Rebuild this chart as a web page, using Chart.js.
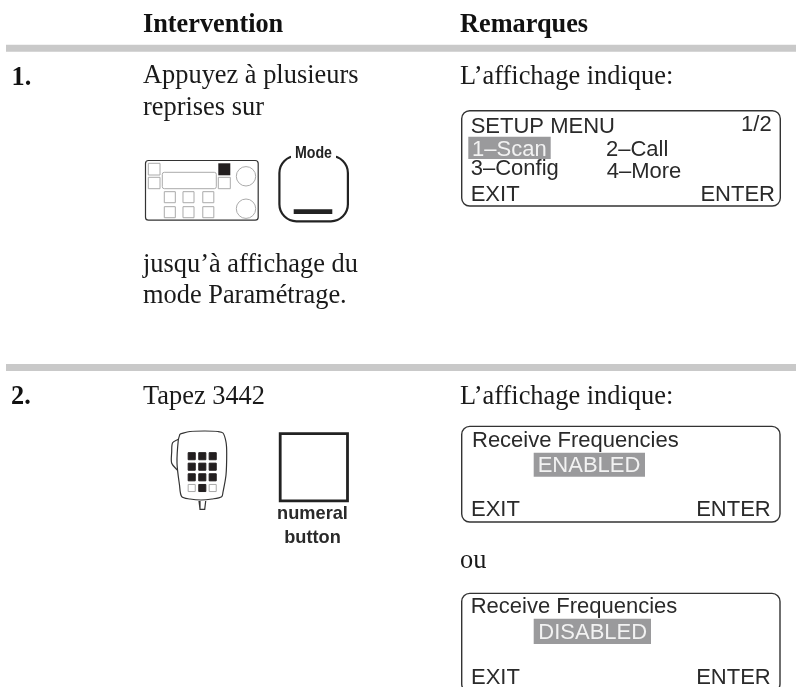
<!DOCTYPE html>
<html lang="fr">
<head>
<meta charset="UTF-8">
<title>Intervention / Remarques</title>
<script src="https://cdn.jsdelivr.net/npm/chart.js"></script>
<style>
  html, body { margin: 0; padding: 0; background: #fff; }
  #wrap { width: 796px; height: 687px; overflow: hidden; }
</style>
</head>
<body>
<div id="wrap"><canvas id="page" width="796" height="687"></canvas></div>
<script>
const SERIF = '"Liberation Serif", serif';
const SANS = '"Liberation Sans", Arial, sans-serif';

// Page text, kept apart from where it goes
const headings = ['Intervention', 'Remarques'];
const stepNumbers = ['1.', '2.'];
const step1Lines = ['Appuyez à plusieurs', 'reprises sur', 'jusqu’à affichage du', 'mode Paramétrage.'];
const step2Line = 'Tapez 3442';
const remark = 'L’affichage indique:';
const orWord = 'ou';
const menuItems = ['SETUP MENU', '1/2', '1–Scan', '2–Call', '3–Config', '4–More', 'EXIT', 'ENTER'];
const receiveTitle = 'Receive Frequencies';
const receiveStates = ['ENABLED', 'DISABLED'];
const keyLabels = ['Mode', 'numeral', 'button'];

// Page rules and keypad squares go through the scales as ordinary datasets
const ruleY = [48.3, 367.5];
const ruleX = [6, 796];
const micKeyX = [191.7, 202.3, 212.7];
const micKeyY = [456.2, 466.7, 477.3, 488];
const radioKeyX = [169.8, 188.5, 208.3];
const radioKeyY = [197.2, 212.2];

const micBody = [[180,434],[190,431.5],[205,431],[218,431.5],[223,433],[226,442],[226.7,453],[226,475],[223,492],[221.7,496.7],[212,499],[201,500],[190,499],[181.7,496.7],[179.5,485],[177,463],[178.3,440]];
const micClip = [[178.3,439.3],[172.6,442.7],[171.7,452],[171.7,463.3],[177.3,470]];
const micStem = [[199,501],[200,509.3],[204.7,509.3],[205.7,501]];

const page = {
  id: 'page',
  afterDatasetsDraw(chart) {
    const c = chart.ctx, sx = chart.scales.x, sy = chart.scales.y;
    const X = v => sx.getPixelForValue(v), Y = v => sy.getPixelForValue(v);

    function text(s, x, y, font, color, align, maxW) {
      c.font = font;
      c.fillStyle = color || '#1a1a1a';
      c.textAlign = align || 'left';
      c.textBaseline = 'alphabetic';
      if (maxW) c.fillText(s, X(x), Y(y), maxW);
      else c.fillText(s, X(x), Y(y));
    }
    function box(x0, y0, x1, y1, r, w, color, fill) {
      c.beginPath();
      c.roundRect(X(x0), Y(y0), X(x1) - X(x0), Y(y1) - Y(y0), r);
      if (fill) { c.fillStyle = fill; c.fill(); }
      if (w) { c.lineWidth = w; c.strokeStyle = color; c.stroke(); }
    }
    function ring(x, y, r) {
      c.beginPath();
      c.arc(X(x), Y(y), r, 0, Math.PI * 2);
      c.lineWidth = 1;
      c.strokeStyle = '#aaa';
      c.stroke();
    }

    // headings and left column
    const body = '26.4px ' + SERIF, bold = 'bold 26.3px ' + SERIF;
    text(headings[0], 143, 31.7, bold, '#111');
    text(headings[1], 460, 31.7, bold, '#111');
    text(stepNumbers[0], 11.5, 85, bold, '#111');
    text(stepNumbers[1], 11, 404, bold, '#111');
    text(step1Lines[0], 143, 83, body);
    text(step1Lines[1], 143, 115, body);
    text(step1Lines[2], 143, 271.7, body);
    text(step1Lines[3], 143, 303.3, body);
    text(step2Line, 143, 404, body);
    text(remark, 460, 84, body);
    text(remark, 460, 404, body);
    text(orWord, 460, 568.3, body);

    // radio front panel
    box(145.5, 160.5, 258.2, 220.2, 3, 1.2, '#333');
    box(148.3, 163.3, 160, 175, 0, 1, '#aaa');
    box(148.3, 177.3, 160, 188.7, 0, 1, '#aaa');
    box(162.3, 172.3, 216.3, 188.7, 2, 1, '#aaa');
    box(218.3, 163.3, 230.3, 175.3, 0, 0, null, '#231f20');
    box(218.3, 177.3, 230.3, 188.7, 0, 1, '#aaa');
    ring(246, 176.3, 9.7);
    ring(246, 208.7, 9.7);

    // Mode key
    box(279.4, 156, 347.9, 221.3, 17, 2.2, '#222');
    c.fillStyle = '#fff';
    c.fillRect(X(291), Y(146), X(336) - X(291), Y(160) - Y(146));
    text(keyLabels[0], 313.5, 157.7, 'bold 17px ' + SANS, '#222', 'center', 37);
    box(293.7, 209.3, 332.3, 214, 0, 0, null, '#222');

    // numeral key
    box(280.2, 433.7, 347.5, 500.9, 0, 2.8, '#222');
    text(keyLabels[1], 312.5, 519.3, 'bold 18.2px ' + SANS, '#2a2a2a', 'center');
    text(keyLabels[2], 312.5, 542.7, 'bold 18.2px ' + SANS, '#2a2a2a', 'center');

    // LCD 1
    const lcd = '22px ' + SANS, ink = '#2a2a2a';
    box(461.7, 110.7, 780.3, 206, 8, 1.4, '#333');
    box(468.3, 136.7, 550.7, 159, 0, 0, null, '#9a9a9c');
    text(menuItems[0], 470.7, 133.3, lcd, ink);
    text(menuItems[1], 771.7, 130.7, lcd, ink, 'right');
    text(menuItems[2], 472, 156, lcd, '#f2f2f2');
    text(menuItems[3], 606, 156, lcd, ink);
    text(menuItems[4], 470.7, 175, lcd, ink);
    text(menuItems[5], 606.7, 178.3, lcd, ink);
    text(menuItems[6], 470.7, 201, lcd, ink);
    text(menuItems[7], 775, 201, lcd, ink, 'right');

    // LCD 2
    box(461.7, 426.4, 780, 522, 8, 1.4, '#333');
    box(533.7, 452.7, 645, 476.7, 0, 0, null, '#9a9a9c');
    text(receiveTitle, 472, 447.3, lcd, ink);
    text(receiveStates[0], 537.7, 472.3, lcd, '#f2f2f2');
    text(menuItems[6], 471, 516, lcd, ink);
    text(menuItems[7], 770.7, 516, lcd, ink, 'right');

    // LCD 3, runs off the bottom of the page
    box(461.7, 593.4, 780, 692, 8, 1.4, '#333');
    box(533.7, 618.7, 651, 644, 0, 0, null, '#9a9a9c');
    text(receiveTitle, 470.7, 613.3, lcd, ink);
    text(receiveStates[1], 538.3, 639, lcd, '#f2f2f2');
    text(menuItems[6], 471, 684.3, lcd, ink);
    text(menuItems[7], 770.7, 684.3, lcd, ink, 'right');
  }
};

const lineSet = (pts, color, width, tension) => ({
  type: 'line',
  data: pts.map(p => ({ x: p[0], y: p[1] })),
  borderColor: color,
  borderWidth: width,
  borderCapStyle: 'butt',
  pointRadius: 0,
  tension: tension || 0,
  fill: false
});
const squareSet = (pts, fill, stroke, radius) => ({
  type: 'scatter',
  data: pts.map(p => ({ x: p[0], y: p[1] })),
  pointStyle: 'rect',
  pointRadius: radius,
  backgroundColor: fill,
  borderColor: stroke,
  borderWidth: 1
});

const micDark = [], micLight = [];
micKeyY.forEach((y, row) => micKeyX.forEach((x, col) => {
  (row < 3 || col === 1 ? micDark : micLight).push([x, y]);
}));
const radioKeys = [];
radioKeyY.forEach(y => radioKeyX.forEach(x => radioKeys.push([x, y])));

new Chart(document.getElementById('page'), {
  type: 'scatter',
  data: {
    datasets: [
      lineSet([[ruleX[0], ruleY[0]], [ruleX[1], ruleY[0]]], '#c9c9c9', 7),
      lineSet([[ruleX[0], ruleY[1]], [ruleX[1], ruleY[1]]], '#c9c9c9', 7),
      lineSet(micBody.concat([micBody[0]]), '#333', 1.2, 0.3),
      lineSet(micClip, '#333', 1.2, 0.3),
      lineSet(micStem, '#333', 1.2),
      squareSet(micDark, '#231f20', '#231f20', 5),
      squareSet(micLight, '#fff', '#aaa', 5),
      squareSet(radioKeys, '#fff', '#aaa', 7.8)
    ]
  },
  options: {
    responsive: false,
    animation: false,
    layout: { padding: 0, autoPadding: false },
    plugins: { legend: { display: false }, tooltip: { enabled: false } },
    scales: {
      x: { type: 'linear', min: 0, max: 796, display: false },
      y: { type: 'linear', min: 0, max: 687, reverse: true, display: false }
    }
  },
  plugins: [page]
});
</script>
</body>
</html>
